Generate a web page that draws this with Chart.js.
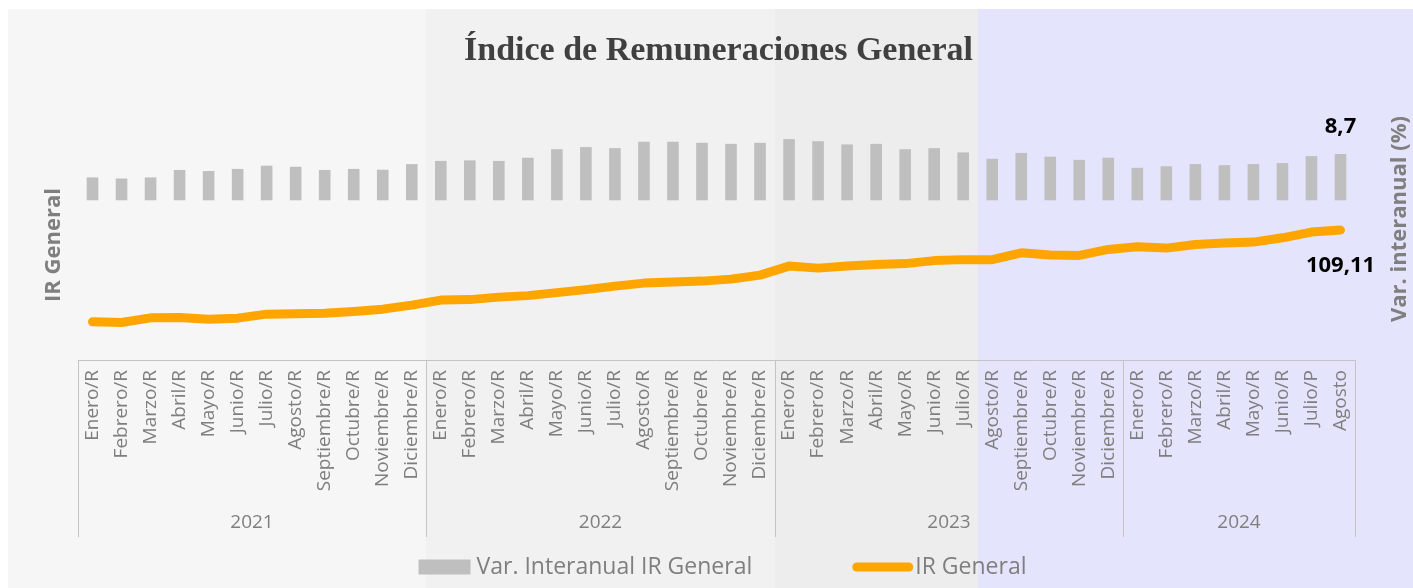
<!DOCTYPE html>
<html lang="es">
<head>
<meta charset="utf-8">
<title>Índice de Remuneraciones General</title>
<script src="https://cdn.jsdelivr.net/npm/chart.js@4.4.1/dist/chart.umd.min.js"></script>
<style>
  html, body { margin: 0; padding: 0; background: #ffffff; }
  #wrap { width: 1413px; height: 588px; position: relative; }
</style>
</head>
<body>
<div id="wrap"><canvas id="grafico"></canvas></div>
<script>
// Meses (ene 2021 - ago 2024)
const etiquetas = [
  "Enero/R", "Febrero/R", "Marzo/R", "Abril/R", "Mayo/R", "Junio/R",
  "Julio/R", "Agosto/R", "Septiembre/R", "Octubre/R", "Noviembre/R", "Diciembre/R",
  "Enero/R", "Febrero/R", "Marzo/R", "Abril/R", "Mayo/R", "Junio/R",
  "Julio/R", "Agosto/R", "Septiembre/R", "Octubre/R", "Noviembre/R", "Diciembre/R",
  "Enero/R", "Febrero/R", "Marzo/R", "Abril/R", "Mayo/R", "Junio/R",
  "Julio/R", "Agosto/R", "Septiembre/R", "Octubre/R", "Noviembre/R", "Diciembre/R",
  "Enero/R", "Febrero/R", "Marzo/R", "Abril/R", "Mayo/R", "Junio/R",
  "Julio/P", "Agosto"
];
const anios = ["2021", "2022", "2023", "2024"];
const mesesPorAnio = [12, 12, 12, 8];

// Var. interanual (%)
const varInteranual = [
  4.3, 4.1, 4.3, 5.7, 5.5, 5.9, 6.5, 6.3, 5.7, 5.9, 5.75, 6.8,
  7.4, 7.5, 7.4, 8.0, 9.6, 10.0, 9.8, 11.0, 11.0, 10.8, 10.6, 10.8,
  11.5, 11.1, 10.5, 10.6, 9.6, 9.8, 9.0, 7.8, 8.9, 8.2, 7.6, 8.0,
  6.1, 6.4, 6.8, 6.6, 6.8, 7.0, 8.3, 8.7
];

// IR General (indice)
const irGeneral = [
  81.49, 81.31, 82.69, 82.81, 82.30, 82.60, 83.81, 83.90, 84.11, 84.62, 85.31, 86.52,
  88.03, 88.18, 88.93, 89.38, 90.28, 91.19, 92.24, 93.15, 93.45, 93.75, 94.35, 95.56,
  98.27, 97.66, 98.27, 98.72, 99.02, 99.92, 100.22, 100.22, 102.27, 101.58, 101.49, 103.30,
  104.08, 103.69, 104.80, 105.19, 105.50, 106.79, 108.51, 109.11
];

// Tramos del fondo (cantidad de meses en cada uno)
const tramosFondo = [12, 12, 7, 13];
const coloresFondo = ["#f6f6f6", "#f1f1f1", "#ededed", "#e4e4fd"];

const GRIS_TEXTO = "#7f7f7f";
const GRIS_LINEA = "#c4c4c4";
const FUENTE = "'Open Sans', sans-serif";

function formatoComa(v) {
  return String(v).replace(".", ",");
}

const decoracion = {
  id: "decoracion",
  beforeDraw(chart) {
    const { ctx, width, height, scales: { x } } = chart;
    const mitad = (x.getPixelForValue(1) - x.getPixelForValue(0)) / 2;
    ctx.save();
    ctx.fillStyle = "#ffffff";
    ctx.fillRect(0, 0, width, height);
    let idx = 0;
    let izq = 8;
    tramosFondo.forEach((n, i) => {
      idx += n;
      const der = i === tramosFondo.length - 1 ? width : Math.round(x.getPixelForValue(idx - 1) + mitad);
      ctx.fillStyle = coloresFondo[i];
      ctx.fillRect(izq, 9, der - izq, height - 9);
      izq = der;
    });
    ctx.restore();
  },
  afterDraw(chart) {
    const { ctx, chartArea, height, scales: { x } } = chart;
    const mitad = (x.getPixelForValue(1) - x.getPixelForValue(0)) / 2;
    const base = chartArea.bottom;
    ctx.save();

    // Titulo
    ctx.fillStyle = "#404040";
    ctx.font = "bold 34px 'Liberation Serif', serif";
    ctx.textAlign = "center";
    ctx.textBaseline = "alphabetic";
    ctx.fillText("Índice de Remuneraciones General", (chartArea.left + chartArea.right) / 2 + 2, 60);

    // Titulos de ejes
    ctx.fillStyle = GRIS_TEXTO;
    ctx.font = "bold 22px " + FUENTE;
    ctx.textBaseline = "middle";
    ctx.save();
    ctx.translate(chartArea.left - 24, chartArea.top + 165);
    ctx.rotate(-Math.PI / 2);
    ctx.fillText("IR General", 0, 0);
    ctx.restore();
    ctx.save();
    ctx.translate(chartArea.right + 45, chartArea.top + 139);
    ctx.rotate(-Math.PI / 2);
    ctx.fillText("Var. interanual (%)", 0, 0);
    ctx.restore();

    // Eje x: linea base, separadores y años
    ctx.strokeStyle = GRIS_LINEA;
    ctx.lineWidth = 1;
    ctx.beginPath();
    ctx.moveTo(chartArea.left, base + 0.5);
    ctx.lineTo(chartArea.right, base + 0.5);
    let idx = 0;
    const bordes = [Math.round(x.getPixelForValue(0) - mitad)];
    mesesPorAnio.forEach(n => {
      idx += n;
      bordes.push(Math.round(x.getPixelForValue(idx - 1) + mitad));
    });
    bordes.forEach(bx => {
      ctx.moveTo(bx + 0.5, base);
      ctx.lineTo(bx + 0.5, base + 177);
    });
    ctx.stroke();
    ctx.font = "19px " + FUENTE;
    ctx.fillStyle = GRIS_TEXTO;
    anios.forEach((a, i) => {
      ctx.fillText(a, (bordes[i] + bordes[i + 1]) / 2, base + 163);
    });

    // Etiquetas de los ultimos valores
    ctx.fillStyle = "#000000";
    ctx.font = "bold 22px " + FUENTE;
    const barras = chart.getDatasetMeta(0).data;
    const ultBarra = barras[barras.length - 1];
    ctx.fillText(formatoComa(varInteranual[varInteranual.length - 1]), ultBarra.x, ultBarra.y - 27);
    const puntos = chart.getDatasetMeta(1).data;
    const ultPunto = puntos[puntos.length - 1];
    ctx.fillText(formatoComa(irGeneral[irGeneral.length - 1]), ultPunto.x, ultPunto.y + 36);

    // Leyenda
    const ds = chart.data.datasets;
    ctx.font = "23px " + FUENTE;
    const w1 = ctx.measureText(ds[0].label).width;
    const w2 = ctx.measureText(ds[1].label).width;
    const total = 52 + 6 + w1 + 100 + 61 + 2 + w2;
    let lx = (chartArea.left + chartArea.right) / 2 + 6 - total / 2;
    const ly = height - 21;
    ctx.fillStyle = ds[0].backgroundColor;
    ctx.fillRect(lx, ly - 7.5, 52, 15);
    lx += 58;
    ctx.fillStyle = GRIS_TEXTO;
    ctx.textAlign = "left";
    ctx.fillText(ds[0].label, lx, ly);
    lx += w1 + 100;
    ctx.strokeStyle = ds[1].borderColor;
    ctx.lineWidth = 9;
    ctx.lineCap = "round";
    ctx.beginPath();
    ctx.moveTo(lx + 4.5, ly);
    ctx.lineTo(lx + 61 - 4.5, ly);
    ctx.stroke();
    lx += 63;
    ctx.fillText(ds[1].label, lx, ly);

    ctx.restore();
  }
};

new Chart(document.getElementById("grafico"), {
  data: {
    labels: etiquetas,
    datasets: [
      {
        type: "bar",
        label: "Var. Interanual IR General",
        data: varInteranual,
        backgroundColor: "#bfbfbf",
        yAxisID: "yVar",
        categoryPercentage: 1,
        barPercentage: 0.4,
        order: 2
      },
      {
        type: "line",
        label: "IR General",
        data: irGeneral,
        borderColor: "#ffa500",
        backgroundColor: "#ffa500",
        borderWidth: 9,
        borderCapStyle: "round",
        borderJoinStyle: "round",
        pointRadius: 0,
        tension: 0,
        yAxisID: "yIR",
        order: 1
      }
    ]
  },
  options: {
    responsive: true,
    maintainAspectRatio: false,
    animation: false,
    layout: { padding: { top: 80, left: 78, right: 58, bottom: 0 } },
    plugins: {
      legend: { display: false },
      title: { display: false },
      tooltip: { enabled: false }
    },
    scales: {
      x: {
        grid: { display: false, drawTicks: false },
        border: { display: false },
        ticks: {
          autoSkip: false,
          minRotation: 90,
          maxRotation: 90,
          padding: 10,
          color: GRIS_TEXTO,
          font: { family: "Open Sans", size: 19 }
        },
        afterFit(scale) { scale.height = 228; }
      },
      yIR: {
        display: false,
        position: "left",
        min: 70,
        max: 154.3
      },
      yVar: {
        display: false,
        position: "right",
        min: -30,
        max: 22.6
      }
    }
  },
  plugins: [decoracion]
});
</script>
</body>
</html>
